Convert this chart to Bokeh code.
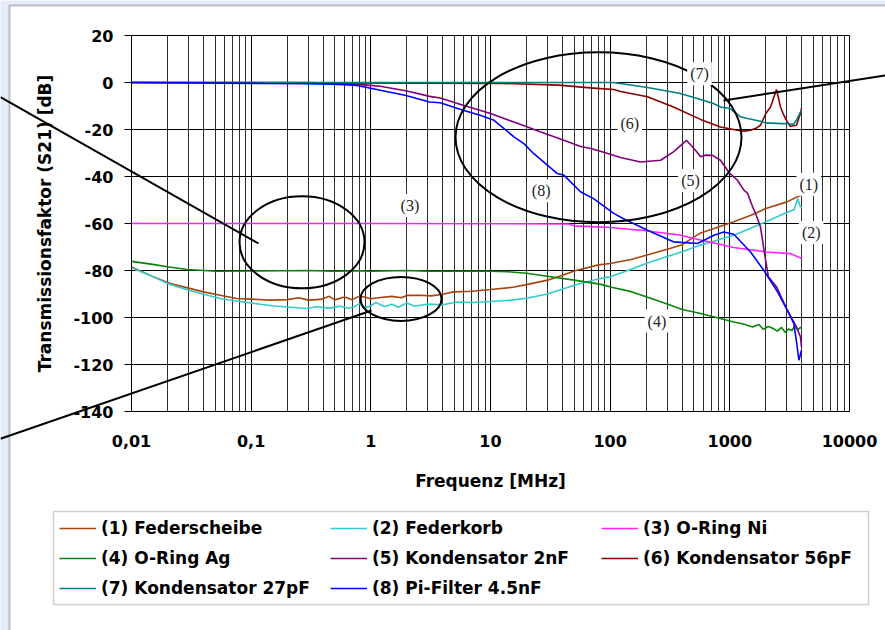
import math
from bokeh.plotting import figure
from bokeh.models import (FixedTicker, Legend, LegendItem, Label, Arrow, BoxAnnotation, Grid)
from bokeh.embed import file_html
from bokeh.resources import INLINE

# ---------------- data ----------------
X_TICKS = [0.01, 0.1, 1.0, 10.0, 100.0, 1000.0, 10000.0]
X_TICK_LABELS = ["0,01", "0,1", "1", "10", "100", "1000", "10000"]
Y_TICKS = [-140, -120, -100, -80, -60, -40, -20, 0, 20]
Y_TICK_LABELS = ["-140", "-120", "-100", "-80", "-60", "-40", "-20", "0", "20"]
X_LIM = (0.01, 10000)
Y_LIM = (-140, 20)

NAMES = ["(1) Federscheibe", "(2) Federkorb", "(3) O-Ring Ni",
         "(4) O-Ring Ag", "(5) Kondensator 2nF", "(6) Kondensator 56pF",
         "(7) Kondensator 27pF", "(8) Pi-Filter 4.5nF"]
COLORS = ["#a9440f", "#33cccc", "#ff22ff", "#0a840a",
          "#800080", "#8b0000", "#008080", "#0000ff"]

F1 = [0.01, 0.015, 0.021, 0.03, 0.04, 0.055, 0.076, 0.1, 0.145, 0.2, 0.25, 0.3, 0.38,
      0.45, 0.5, 0.6, 0.7, 0.8, 0.87, 1.0, 1.2, 1.5, 1.8, 2.0, 2.6, 3.2, 4.0, 4.9, 7.0,
      10, 15, 20, 30, 40, 50, 80, 100, 150, 200, 300, 400, 570, 1080, 1500, 2000, 3000, 3900]
D1 = [-78.5, -82.5, -85.5, -87.5, -89.1, -90.5, -91.9, -92.2, -92.6, -92.4, -91.6, -92.6, -92.3,
      -91.0, -92.5, -91.3, -92.4, -90.9, -91.2, -92.0, -91.5, -91.0, -91.6, -90.6, -90.5, -90.8,
      -90.1, -89.1, -88.8, -88.1, -87.2, -86.0, -84.1, -82.0, -80.2, -77.6, -77.0, -75.3, -73.5,
      -71.0, -69.0, -64.0, -59.3, -56.5, -53.6, -50.8, -48.0]

F2 = [0.01, 0.015, 0.021, 0.03, 0.055, 0.075, 0.105, 0.15, 0.2, 0.29, 0.35, 0.45, 0.55, 0.65,
      0.72, 0.8, 0.9, 1.0, 1.1, 1.3, 1.5, 1.7, 2.0, 2.3, 2.6, 3.0, 4.0, 5.2, 7.0, 10, 15, 20, 30,
      50, 80, 100, 150, 200, 300, 400, 570, 1080, 2000, 3000, 3450, 3700, 3850, 4000]
D2 = [-78.8, -82.6, -86.0, -88.4, -91.9, -93.0, -94.0, -95.0, -95.5, -96.2, -95.4, -96.0, -95.2,
      -96.1, -95.5, -94.2, -95.8, -95.0, -93.6, -95.3, -94.4, -95.6, -93.8, -95.1, -94.8, -94.3,
      -94.6, -93.4, -93.6, -93.2, -92.6, -91.8, -90.0, -86.3, -83.5, -82.7, -79.5, -77.0, -74.0,
      -72.0, -69.2, -65.0, -59.3, -55.3, -54.0, -49.4, -52.5, -53.2]

F3 = [0.01, 1, 10, 45, 50, 100, 200, 386, 570, 1080, 2000, 3200, 4000]
D3 = [-60.0, -60.0, -60.1, -60.2, -61.0, -61.7, -63.1, -65.0, -67.0, -70.2, -72.1, -72.8, -74.9]

F4 = [0.01, 0.015, 0.02, 0.029, 0.052, 0.1, 0.3, 0.5, 0.8, 1, 2, 3, 5, 10, 13.8, 20, 26, 50,
      82, 105, 150, 200, 300, 400, 570, 800, 1080, 1300, 1550, 1750, 1900, 2100, 2300, 2500,
      2700, 2900, 3100, 3300, 3500, 3700, 3900, 4000]
D4 = [-76.1, -77.4, -78.4, -79.6, -80.3, -80.2, -80.0, -80.3, -80.1, -80.3, -80.0, -80.3, -80.3,
      -80.3, -80.5, -81.2, -82.0, -84.1, -85.8, -87.2, -89.0, -91.2, -94.3, -96.6, -98.3, -100.2,
      -101.9, -102.8, -104.0, -103.0, -105.0, -103.8, -104.7, -105.8, -104.2, -106.3, -104.9,
      -105.5, -103.6, -105.2, -104.2, -104.7]

F5 = [0.01, 0.3, 0.48, 0.7, 0.93, 1.2, 2, 3.1, 3.8, 5.9, 10, 20.4, 26, 41, 56, 68.5, 83, 122,
      179, 264, 338, 434, 516, 569, 632, 717, 835, 1000, 1159, 1310, 1405, 1550, 1638, 1803,
      1900, 1970, 2100, 2460, 3020, 3600, 3890, 3970]
D5 = [0.0, 0.0, -0.3, -0.7, -1.1, -1.6, -3.6, -5.9, -6.6, -9.7, -13.2, -18.9, -21.0, -24.6,
      -27.1, -28.1, -29.3, -31.9, -33.8, -33.1, -29.5, -24.6, -28.8, -31.6, -30.9, -31.0, -33.1,
      -38.7, -41.6, -45.8, -47.1, -52.9, -55.6, -61.4, -69.0, -74.2, -82.7, -87.0, -96.9, -104.0,
      -108.2, -112.5]

F6 = [0.01, 12.9, 37, 68.5, 78, 107, 122, 205, 338, 569, 835, 1159, 1310, 1490, 1650, 1803,
      2000, 2188, 2455, 2650, 2800, 3020, 3200, 3600, 3890, 3970]
D6 = [0.0, -0.4, -1.1, -2.3, -2.5, -3.0, -3.8, -6.1, -10.4, -15.7, -18.9, -20.3, -20.7, -20.3,
      -19.5, -18.2, -13.2, -10.4, -3.0, -10.4, -13.5, -16.8, -18.6, -18.2, -13.2, -11.0]

F7 = [0.01, 100, 110, 205, 386, 569, 730, 835, 1000, 1230, 1405, 1803, 2000, 2700, 3020, 3400,
      3600, 3970]
D7 = [0.0, 0.0, -0.1, -2.1, -4.7, -7.2, -8.9, -10.4, -11.1, -14.6, -15.3, -16.5, -17.2, -17.5,
      -17.5, -17.8, -16.0, -11.8]

F8 = [0.01, 0.127, 0.3, 0.48, 0.72, 0.93, 1.2, 1.93, 3.1, 3.8, 5.9, 8.2, 10.7, 15.7, 19, 22.9,
      36, 41, 56.5, 72.6, 107, 128, 205, 338, 537, 735, 890, 1080, 1490, 1920, 2460, 3020, 3430,
      3600, 3780, 3970]
D8 = [0.0, -0.4, -0.5, -0.7, -1.1, -2.1, -3.3, -5.4, -8.3, -8.6, -11.8, -13.9, -16.1, -23.1,
      -26.0, -30.2, -38.7, -39.4, -46.5, -49.4, -55.7, -57.9, -62.9, -67.8, -68.5, -65.0, -63.6,
      -64.6, -72.1, -79.9, -88.4, -96.9, -102.6, -110.0, -118.2, -113.9]

FREQS = [F1, F2, F3, F4, F5, F6, F7, F8]
DBS = [D1, D2, D3, D4, D5, D6, D7, D8]

# annotation marks inside the chart (ellipses, numbered tags)
ELL_X = [79.9, 0.266, 1.787]
ELL_Y = [-23.3, -68.0, -92.1]
ELL_W = [286, 125, 81]
ELL_H = [170, 92, 44]

TAGS = ["(1)", "(2)", "(3)", "(4)", "(5)", "(6)", "(7)", "(8)"]
TAG_X = [4570, 4786, 2.12, 246, 469, 146, 558, 26.5]
TAG_Y = [-43.3, -63.8, -52.3, -101.5, -41.7, -17.3, 3.7, -46.1]

# ---------------- layout geometry (page pixels) ----------------
W, H = 885, 630
AX0, AX1, AY0, AY1 = 131, 849, 35, 411   # plot area inside the page


def px_x(px):
    lo, hi = math.log10(X_LIM[0]), math.log10(X_LIM[1])
    return 10 ** (lo + (hi - lo) * (px - AX0) / (AX1 - AX0))


def px_y(py):
    return Y_LIM[1] - (Y_LIM[1] - Y_LIM[0]) * (py - AY0) / (AY1 - AY0)


# the frame covers the whole page; axes are pinned to the plot-area edges
p = figure(width=W, height=H, x_axis_type="log",
           x_range=(px_x(0), px_x(W)), y_range=(px_y(H), px_y(0)),
           output_backend="svg", toolbar_location=None,
           min_border_left=0, min_border_right=0, min_border_top=0, min_border_bottom=0,
           x_axis_label="Frequenz [MHz]", y_axis_label="Transmissionsfaktor (S21) [dB]")
p.background_fill_color = "#e6ebfa"
p.border_fill_color = "#e6ebfa"
p.outline_line_color = None

# white panel with dark border (page background is lavender)
p.add_layout(BoxAnnotation(left=px_x(9), right=px_x(W + 20), top=px_y(5), bottom=px_y(H + 20),
                           fill_color="white", fill_alpha=1, line_color="#3f3f3f",
                           line_width=2, level="image"))

minor = []
for d in X_TICKS[:-1]:
    for k in range(2, 10):
        minor.append(d * k)
p.xaxis.ticker = FixedTicker(ticks=X_TICKS, minor_ticks=minor)
p.yaxis.ticker = FixedTicker(ticks=Y_TICKS)
p.xaxis.major_label_overrides = dict(zip(X_TICKS, X_TICK_LABELS))
p.yaxis.major_label_overrides = dict(zip(Y_TICKS, Y_TICK_LABELS))
p.xaxis.fixed_location = Y_LIM[0]
p.yaxis.fixed_location = X_LIM[0]
p.xaxis.bounds = X_LIM
p.yaxis.bounds = Y_LIM

FONT = "DejaVu Sans"
for ax in (p.xaxis, p.yaxis):
    ax.axis_line_color = "black"
    ax.major_tick_line_color = "black"
    ax.major_label_text_font = FONT
    ax.major_label_text_font_style = "bold"
    ax.major_label_text_font_size = "16px"
    ax.major_label_text_color = "black"
    ax.axis_label_text_font = FONT
    ax.axis_label_text_font_style = "bold"
    ax.axis_label_text_font_size = "17px"
    ax.axis_label_text_color = "black"
    ax.minor_tick_line_color = None
    ax.major_tick_in = 0

p.xaxis.major_tick_out = 0
p.xaxis.major_label_standoff = 19
p.xaxis.axis_label_standoff = 21
p.yaxis.major_tick_out = 7
p.yaxis.major_label_standoff = 11
p.yaxis.axis_label_standoff = 15

p.xgrid.grid_line_color = "black"
p.xgrid.minor_grid_line_color = "#303030"
p.ygrid.grid_line_color = "black"
p.xgrid.bounds = X_LIM
p.ygrid.bounds = Y_LIM
if "cross_bounds" in Grid.properties():
    p.xgrid.cross_bounds = Y_LIM
    p.ygrid.cross_bounds = X_LIM
else:
    p.xgrid.visible = False
    p.ygrid.visible = False
    p.segment(x0=minor, y0=Y_LIM[0], x1=minor, y1=Y_LIM[1], line_color="#303030")
    p.segment(x0=X_TICKS, y0=Y_LIM[0], x1=X_TICKS, y1=Y_LIM[1], line_color="black")
    p.segment(x0=X_LIM[0], y0=Y_TICKS, x1=X_LIM[1], y1=Y_TICKS, line_color="black")

# ---------------- data lines ----------------
renderers = []
for f, d, c in zip(FREQS, DBS, COLORS):
    renderers.append(p.line(f, d, line_color=c, line_width=1.6))

# ---------------- ellipses ----------------
p.ellipse(x=ELL_X, y=ELL_Y, width=ELL_W, height=ELL_H, width_units="screen",
          height_units="screen", fill_color=None, line_color="black", line_width=2)

# pointer lines (page pixels)
POINTERS = [((0, 96.7), (258, 243)), ((0, 438.3), (371, 310)), ((723, 100), (885, 75))]
for (a, b) in POINTERS:
    p.add_layout(Arrow(end=None, x_start=px_x(a[0]), y_start=px_y(a[1]),
                       x_end=px_x(b[0]), y_end=px_y(b[1]), line_color="black", line_width=2))

# numbered tags
for t, x, y in zip(TAGS, TAG_X, TAG_Y):
    p.add_layout(Label(x=x, y=y, text=t, text_align="center", text_baseline="middle",
                       text_font="Liberation Serif", text_font_size="16px", text_color="#222222",
                       background_fill_color="white", padding=3))

# ---------------- legend ----------------
p.add_layout(BoxAnnotation(left=px_x(53), right=px_x(868), top=px_y(511), bottom=px_y(604),
                           fill_color="white", fill_alpha=1, line_color="#606060",
                           line_width=1.5))
cols = [[0, 3, 6], [1, 4, 7], [2, 5]]
col_x = [59, 330, 601]
ROW_TOP, ROW_H, ROW_GAP = 518, 20, 10
for idxs, cx in zip(cols, col_x):
    items = [LegendItem(label=NAMES[i], renderers=[renderers[i]]) for i in idxs]
    n = len(idxs)
    h = n * ROW_H + (n - 1) * ROW_GAP
    leg = Legend(items=items, location=(cx, H - ROW_TOP - h), orientation="vertical",
                 glyph_width=37, glyph_height=ROW_H, label_height=ROW_H, label_standoff=5,
                 spacing=ROW_GAP, padding=0, margin=0, border_line_color=None,
                 background_fill_alpha=0, label_text_font=FONT,
                 label_text_font_style="bold", label_text_font_size="17px",
                 label_text_color="black")
    p.add_layout(leg)

open("out.html", "w").write(file_html(p, INLINE))
